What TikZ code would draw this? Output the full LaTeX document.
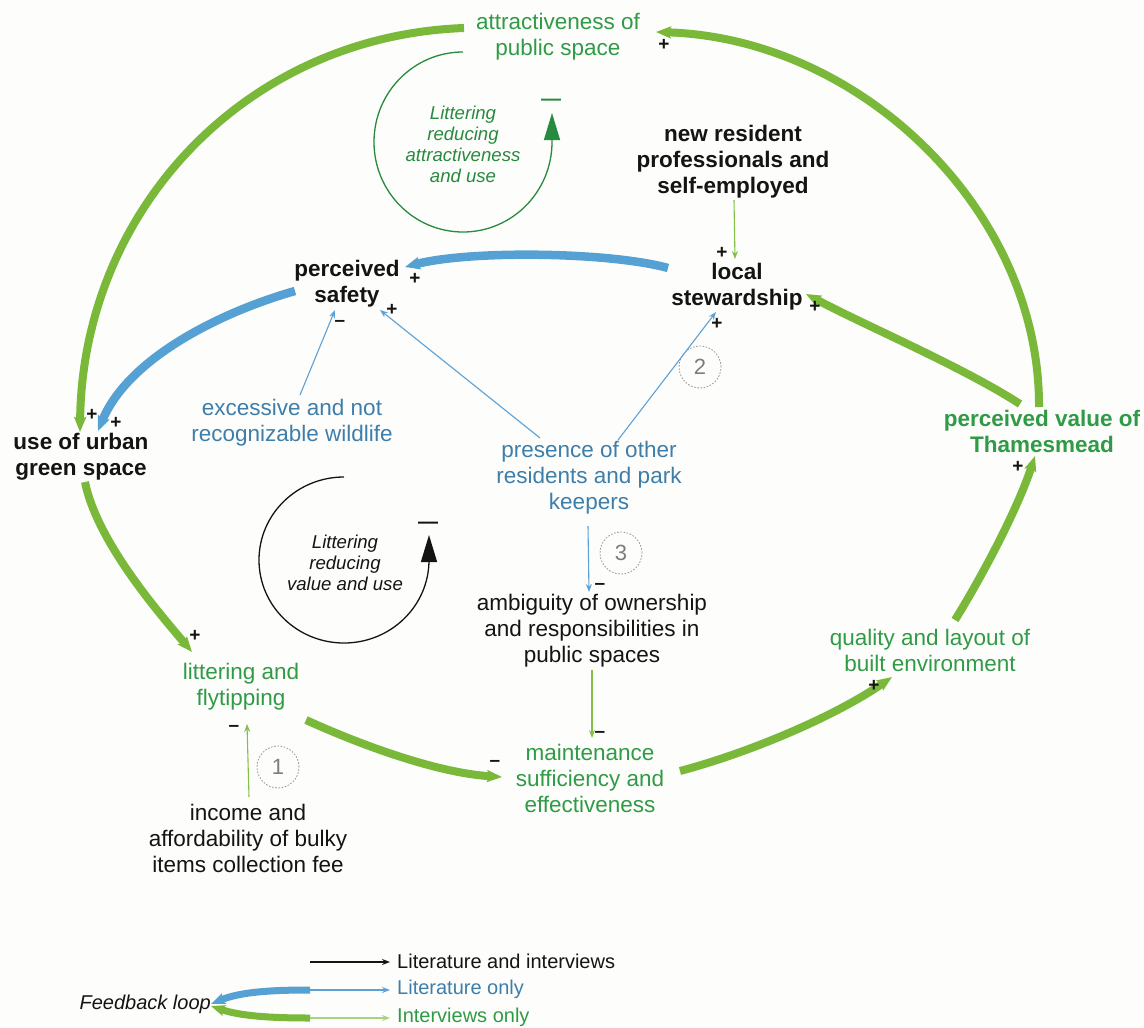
\documentclass[tikz,border=0pt]{standalone}
\usepackage{fontspec}
\setmainfont{Liberation Sans}
\usetikzlibrary{arrows.meta}

\definecolor{arcgreen}{RGB}{122,184,58}
\definecolor{arcblue}{RGB}{86,161,211}
\definecolor{txtgreen}{RGB}{48,155,70}
\definecolor{txtblue}{RGB}{62,126,170}
\definecolor{loopgreen}{RGB}{40,138,62}
\definecolor{thingreen}{RGB}{132,192,72}
\definecolor{thinblue}{RGB}{92,162,214}
\definecolor{numgray}{RGB}{125,125,125}
\definecolor{ink}{RGB}{20,20,20}
\definecolor{paper}{RGB}{253,253,251}

\tikzset{
  var/.style={align=center, inner sep=0pt, text=ink, font=\fontsize{22.5}{26}\selectfont},
  core/.style={var, font=\fontsize{22.5}{26}\selectfont\bfseries},
  looplbl/.style={align=center, inner sep=0pt, text=ink, font=\fontsize{18.6}{21}\selectfont\itshape},
  sign/.style={inner sep=0pt, text=ink, font=\fontsize{19}{19}\selectfont\bfseries},
  loopsign/.style={inner sep=0pt, font=\fontsize{20}{20}\selectfont\bfseries},
  legtxt/.style={inner sep=0pt, anchor=west, font=\fontsize{20}{24}\selectfont},
  fbgreen/.style={draw=arcgreen, line width=8pt, -{Stealth[length=15pt,width=12pt,inset=3pt]}},
  fbblue/.style={draw=arcblue, line width=8.5pt, -{Stealth[length=15pt,width=12.5pt,inset=3pt]}},
  lnkgreen/.style={draw=thingreen, line width=1.1pt, -{Stealth[length=8pt,width=6pt]}},
  lnkblue/.style={draw=thinblue, line width=1.1pt, -{Stealth[length=8pt,width=6pt]}},
  lnkblack/.style={draw=ink, line width=1.1pt, -{Stealth[length=8pt,width=6pt]}},
  loopline/.style={line width=1.3pt, -{Triangle[length=27pt,width=16pt]}},
  casenum/.style={circle, draw=numgray!80, dash pattern=on 1.6pt off 1.6pt, line width=0.8pt,
    minimum size=42pt, inner sep=0pt, text=numgray, font=\fontsize{22}{22}\selectfont}
}

\begin{document}
\begin{tikzpicture}[x=1pt,y=-1pt]
\fill[paper] (0,0) rectangle (1144,1028);
\useasboundingbox (0,0) rectangle (1144,1028);

% ---------- variables ----------
\node[var, text=txtgreen] (attract) at (558,37) {attractiveness of\\public space};
\node[looplbl, text=loopgreen] (loopA) at (463,144) {Littering\\reducing\\attractiveness\\and use};
\node[core] (newres) at (733,162) {new resident\\professionals and\\self-employed};
\node[core] (stew) at (737,287) {local\\stewardship};
\node[core] (safety) at (347,284) {perceived\\safety};
\node[core] (use) at (81,457) {use of urban\\green space};
\node[var, text=txtblue] (wild) at (292,423) {excessive and not\\recognizable wildlife};
\node[var, text=txtblue] (presence) at (589,478) {presence of other\\residents and park\\keepers};
\node[core, text=txtgreen] (value) at (1042,431) {perceived value of\\Thamesmead};
\node[looplbl] (loopB) at (345,563) {Littering\\reducing\\value and use};
\node[var] (ambig) at (592,631) {ambiguity of ownership\\and responsibilities in\\public spaces};
\node[var, text=txtgreen] (quality) at (930,650) {quality and layout of\\built environment};
\node[var, text=txtgreen] (litter) at (241,687) {littering and\\flytipping};
\node[var, text=txtgreen] (maint) at (590,778) {maintenance\\sufficiency and\\effectiveness};
\node[var] (income) at (248,838) {income and\\affordability of bulky\\items collection fee};

% ---------- arc end points ----------
\coordinate (valueTop) at (1039,407);
\coordinate (attractIn) at (656,32);
\coordinate (valueLeft) at (1020,404);
\coordinate (stewIn) at (806,294);
\coordinate (qualityOut) at (955,620);
\coordinate (valueIn) at (1035,456);
\coordinate (maintOut) at (680,771);
\coordinate (qualityIn) at (892,677);
\coordinate (litterOut) at (306,720);
\coordinate (maintIn) at (502,777);
\coordinate (useOut) at (85,482);
\coordinate (litterIn) at (192,652);
\coordinate (attractOut) at (464,28);
\coordinate (useInG) at (80,432);
\coordinate (stewOut) at (668,268);
\coordinate (safetyInB) at (405,267);
\coordinate (safetyOut) at (295,291);
\coordinate (useInB) at (98,431);

% ---------- feedback links ----------
\draw[fbgreen] (valueTop) .. controls (1040,210) and (860,38) .. (attractIn);
\draw[fbgreen] (valueLeft) .. controls (961,366) and (866,326) .. (stewIn);
\draw[fbgreen] (qualityOut) .. controls (984,573) and (1018,508) .. (valueIn);
\draw[fbgreen] (maintOut) .. controls (748,753) and (834,717) .. (qualityIn);
\draw[fbgreen] (litterOut) .. controls (361,745) and (437,773) .. (maintIn);
\draw[fbgreen] (useOut) .. controls (97,542) and (160,614) .. (litterIn);
\draw[fbgreen] (attractOut) .. controls (244,36) and (82,212) .. (useInG);
\draw[fbblue] (stewOut) .. controls (610,252) and (470,250) .. (safetyInB);
\draw[fbblue] (safetyOut) .. controls (221,312) and (128,358) .. (useInB);

% ---------- single links ----------
\coordinate (newresOut) at (734,200);
\coordinate (stewInN) at (735,259);
\coordinate (wildOut) at (300,395);
\coordinate (safetyInW) at (335,310);
\coordinate (presOutL) at (540,438);
\coordinate (safetyInP) at (380,310);
\coordinate (presOutR) at (618,440);
\coordinate (stewInP) at (716,312);
\coordinate (presOutD) at (588,526);
\coordinate (ambigIn) at (589,592);
\coordinate (ambigOut) at (592,670);
\coordinate (maintInA) at (592,738);
\coordinate (incomeOut) at (249,797);
\coordinate (litterInI) at (247,724);

\draw[lnkgreen] (newresOut) -- (stewInN);
\draw[lnkblue] (wildOut) -- (safetyInW);
\draw[lnkblue] (presOutL) -- (safetyInP);
\draw[lnkblue] (presOutR) -- (stewInP);
\draw[lnkblue] (presOutD) -- (ambigIn);
\draw[lnkgreen] (ambigOut) -- (maintInA);
\draw[lnkgreen] (incomeOut) -- (litterInI);

% ---------- polarity signs ----------
\node[sign] (s1) at (664,45) {+};
\node[sign] (s2) at (722,253) {+};
\node[sign] (s3) at (815,307) {+};
\node[sign] (s4) at (717,324) {+};
\node[sign] (s5) at (415,279) {+};
\node[sign] (s6) at (392,310) {+};
\node[sign] (s7) at (340,323) {–};
\node[sign] (s8) at (92,415) {+};
\node[sign] (s9) at (116,423) {+};
\node[sign] (s10) at (195,636) {+};
\node[sign] (s11) at (234,728) {–};
\node[sign] (s12) at (495,763) {–};
\node[sign] (s13) at (600,734) {–};
\node[sign] (s14) at (600,586) {–};
\node[sign] (s15) at (874,686) {+};
\node[sign] (s16) at (1018,467) {+};

% ---------- named loops ----------
\draw[loopline, draw=loopgreen] (463,52) arc[start angle=-90, end angle=-360, x radius=89, y radius=90] -- (552,113);
\node[loopsign, text=loopgreen] (lsA) at (551,102) {—};
\draw[loopline, draw=ink] (344,477) arc[start angle=-90, end angle=-360, x radius=85, y radius=83] -- (429,535);
\node[loopsign, text=ink] (lsB) at (428,525) {—};

% ---------- case markers ----------
\node[casenum] (c1) at (278,767) {1};
\node[casenum] (c2) at (700,367) {2};
\node[casenum] (c3) at (621,553) {3};

% ---------- legend ----------
\node[legtxt, text=ink] (lgK) at (397,961) {Literature and interviews};
\node[legtxt, text=txtblue] (lgB) at (397,989) {Literature only};
\node[legtxt, text=txtgreen] (lgG) at (397,1017) {Interviews only};
\node[inner sep=0pt, anchor=east, text=ink, font=\fontsize{20}{24}\selectfont\itshape] (lgF) at (211,1004) {Feedback loop};

\coordinate (lgK0) at (310,962);
\coordinate (lgB0) at (310,990);
\coordinate (lgG0) at (310,1018);
\draw[lnkblack, shorten >=7pt] (lgK0) -- (lgK0 -| lgK.west);
\draw[lnkblue, shorten >=7pt] (lgB0) -- (lgB0 -| lgB.west);
\draw[lnkgreen, draw=thingreen!70, shorten >=7pt] (lgG0) -- (lgG0 -| lgG.west);
\draw[draw=arcblue, line width=7pt, -{Stealth[length=14pt,width=11pt,inset=3pt]}]
  (lgB0) .. controls (270,990) and (240,992) .. (lgF.east);
\draw[draw=arcgreen, line width=7pt, -{Stealth[length=14pt,width=11pt,inset=3pt]}]
  (lgG0) .. controls (270,1018) and (240,1016) .. ([yshift=-2pt]lgF.east);
\end{tikzpicture}
\end{document}
